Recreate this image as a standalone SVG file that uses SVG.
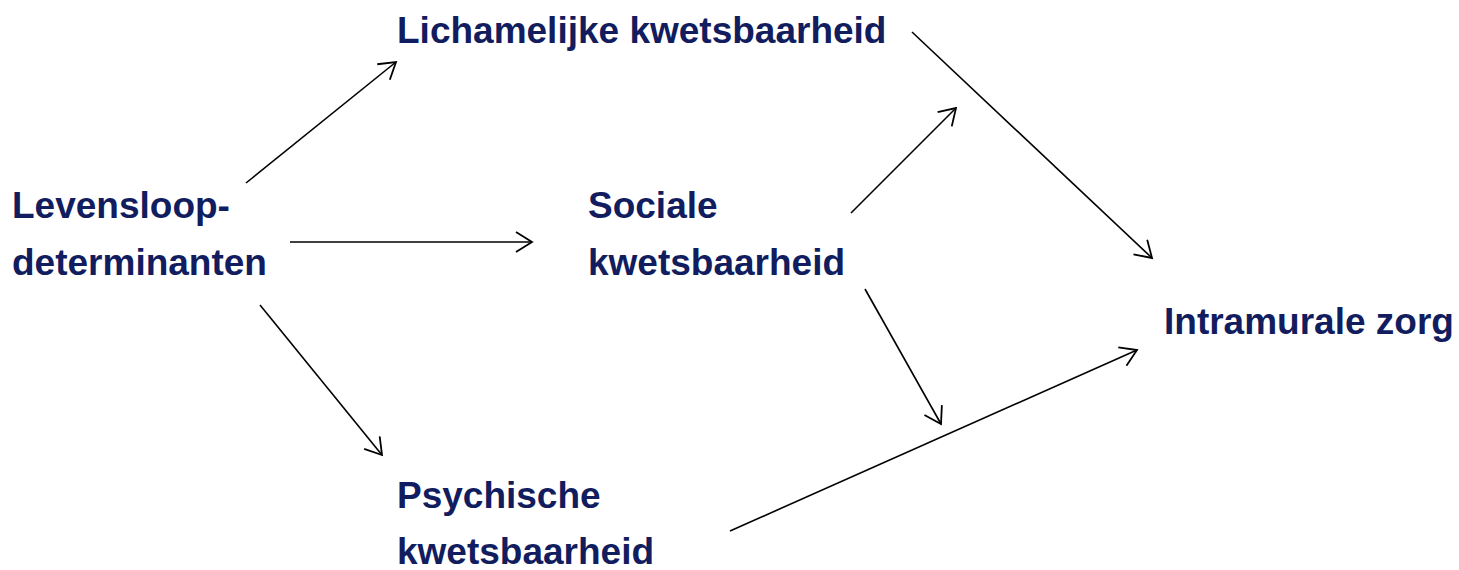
<svg xmlns="http://www.w3.org/2000/svg" width="1459" height="570" viewBox="0 0 1459 570">
  <style>
    .lbl { font-family: "Liberation Sans", Arial, sans-serif; font-weight: bold; font-size: 37px; fill: #111D5E; }
    .edge { stroke: #000; stroke-width: 1.6; fill: none; marker-end: url(#arr); }
  </style>
  <defs>
    <marker id="arr" markerUnits="userSpaceOnUse" markerWidth="20" markerHeight="22" viewBox="0 0 20 22" refX="18" refY="11" orient="auto">
      <path d="M2,1 L18,11 L2,21" fill="none" stroke="#000" stroke-width="1.8"/>
    </marker>
  </defs>
  <rect width="1459" height="570" fill="#fff"/>
  <g id="connectors">
    <line class="edge" x1="246" y1="183" x2="396" y2="62"/>
    <line class="edge" x1="290" y1="242" x2="532" y2="242"/>
    <line class="edge" x1="260" y1="305" x2="382" y2="455"/>
    <line class="edge" x1="851" y1="213" x2="956" y2="108"/>
    <line class="edge" x1="912" y1="32" x2="1152" y2="258"/>
    <line class="edge" x1="865" y1="289" x2="941" y2="424"/>
    <line class="edge" x1="730" y1="531" x2="1137" y2="350"/>
  </g>
  <g id="levensloop">
    <text class="lbl" x="12" y="218">Levensloop-</text>
    <text class="lbl" x="12" y="275">determinanten</text>
  </g>
  <g id="lichamelijk">
    <text class="lbl" x="397" y="43">Lichamelijke kwetsbaarheid</text>
  </g>
  <g id="sociaal">
    <text class="lbl" x="588" y="218">Sociale</text>
    <text class="lbl" x="588" y="275">kwetsbaarheid</text>
  </g>
  <g id="psychisch">
    <text class="lbl" x="397" y="508">Psychische</text>
    <text class="lbl" x="397" y="564">kwetsbaarheid</text>
  </g>
  <g id="intramuraal">
    <text class="lbl" x="1164" y="334">Intramurale zorg</text>
  </g>
</svg>
